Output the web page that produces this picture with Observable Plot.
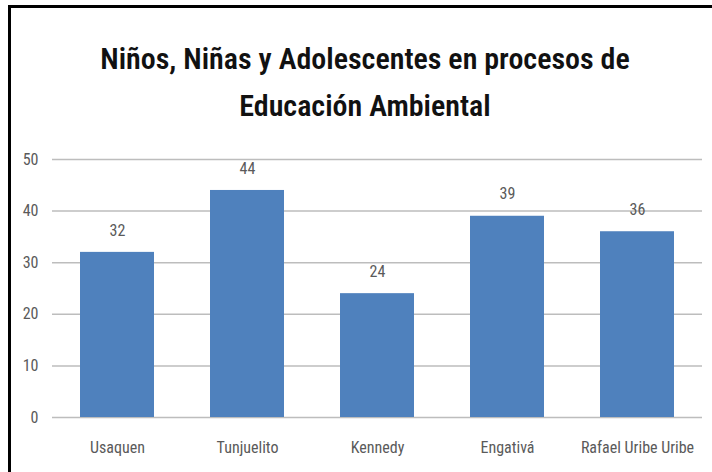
<!DOCTYPE html>
<html>
<head>
<meta charset="utf-8">
<script src="https://cdn.jsdelivr.net/npm/d3@7"></script>
<script src="https://cdn.jsdelivr.net/npm/@observablehq/plot@0.6"></script>
<style>
  html, body { margin: 0; padding: 0; background: #fff; }
  #frame { position: relative; width: 712px; height: 472px; overflow: hidden; background: #fff; }
  #border { position: absolute; left: 8px; top: 5px; width: 720px; height: 480px; border-left: 3px solid #000; border-top: 3px solid #000; box-sizing: border-box; }
  #title { position: absolute; left: 0; top: 35px; width: 730px; text-align: center; font-family: "Roboto Condensed", "Liberation Sans Narrow", sans-serif; font-weight: 600; font-size: 30px; line-height: 47px; color: #111; }
  #chart { position: absolute; left: 0; top: 130px; }
</style>
</head>
<body>
<div id="frame">
  <div id="border"></div>
  <div id="title"></div>
  <div id="chart"></div>
</div>
<script>
const titleLines = ["Niños, Niñas y Adolescentes en procesos de", "Educación Ambiental"];
const categories = ["Usaquen", "Tunjuelito", "Kennedy", "Engativá", "Rafael Uribe Uribe"];
const values = [32, 44, 24, 39, 36];
const yTicks = [0, 10, 20, 30, 40, 50];

document.getElementById("title").innerHTML = titleLines.join("<br>");

const data = categories.map((c, i) => ({category: c, value: values[i]}));
const font = '"Roboto Condensed", "Liberation Sans Narrow", sans-serif';

const plot = Plot.plot({
  width: 712,
  height: 340,
  marginTop: 29,
  marginBottom: 53,
  marginLeft: 52,
  marginRight: 10,
  style: {fontFamily: font, fontSize: "16px", color: "#5a5a5a", background: "transparent"},
  x: {domain: categories, paddingInner: 0.43, paddingOuter: 0.215, label: null, tickSize: 0, tickPadding: 24},
  y: {domain: [0, 50], ticks: yTicks, label: null, tickSize: 0, tickPadding: 14, grid: false},
  marks: [
    Plot.ruleY(yTicks, {stroke: "#bdbdbd", strokeWidth: 1.5}),
    Plot.barY(data, {x: "category", y: "value", fill: "#4f81bd"}),
    Plot.text(data, {x: "category", y: "value", text: d => String(d.value), dy: -22, fill: "#5a5a5a", fontSize: 16})
  ]
});
document.getElementById("chart").appendChild(plot);
</script>
</body>
</html>
